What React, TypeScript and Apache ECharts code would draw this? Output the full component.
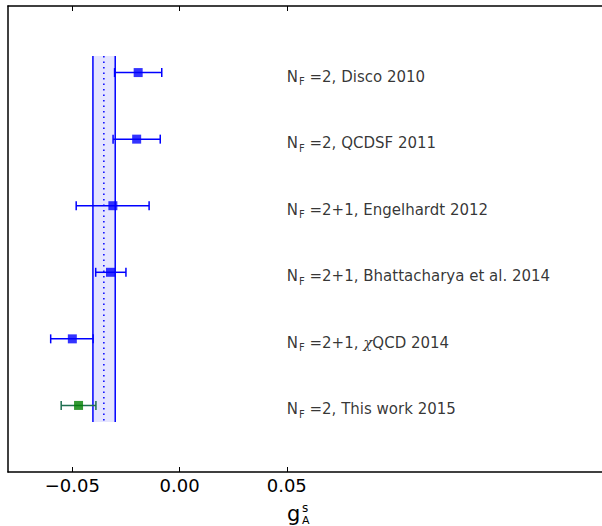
import React, { useEffect, useRef } from "react";
import * as echarts from "echarts";

// ---- data ----
const yPositions = [6, 5, 4, 3, 2, 1];
const flavours = ["2", "2", "2+1", "2+1", "2+1", "2"];
const studies = ["Disco 2010", "QCDSF 2011", "Engelhardt 2012", "Bhattacharya et al. 2014", "χQCD 2014", "This work 2015"];
const centralValues = [-0.0193, -0.02, -0.0311, -0.0322, -0.05, -0.0471];
const lowerValues = [-0.0303, -0.031, -0.0482, -0.0391, -0.0601, -0.0552];
const upperValues = [-0.0083, -0.009, -0.0142, -0.025, -0.0403, -0.039];
const thisWorkIndex = 5;
const bandLow = -0.0404;
const bandHigh = -0.03;
const bandMid = -0.0353;
const bandYRange = [0.75, 6.25];
const labelX = 0.05;
const xTicks = [-0.05, 0, 0.05];
const xRange = [-0.08, 0.197];
const yRange = [0, 7];

const BLUE = "#0000ff";
const GREEN = "#008000";
const GREEN_BAR = "#1e6e50";
const FONT = "DejaVu Sans";

function labelText(i: number) {
  const rest = ` =${flavours[i]}, ` + studies[i];
  if (rest.includes("χ")) {
    const [a, b] = rest.split("χ");
    return `{n|N}{sub|F}{t|${a}}{chi|χ}{t|${b}}`;
  }
  return `{n|N}{sub|F}{t|${rest}}`;
}

export default function App() {
  const ref = useRef<HTMLDivElement>(null);
  useEffect(() => {
    if (!ref.current) return;
    const chart = echarts.init(ref.current, undefined, { renderer: "svg" });
    const pointData = yPositions.map((y, i) => [centralValues[i], y]);
    const errData = yPositions.map((y, i) => [lowerValues[i], upperValues[i], y]);
    const labelData = yPositions.map((y) => [labelX, y]);

    const option: any = {
      animation: false,
      backgroundColor: "#ffffff",
      grid: { left: 8, top: 6, right: 0, height: 466, containLabel: false },
      xAxis: [
        {
          type: "value",
          position: "bottom",
          min: xRange[0],
          max: xRange[1],
          axisLine: { show: true, onZero: false, lineStyle: { color: "#000", width: 1.5 } },
          axisTick: { show: true, inside: true, length: 5, customValues: xTicks, lineStyle: { color: "#000", width: 1 } },
          axisLabel: {
            show: true,
            customValues: xTicks,
            margin: 4,
            color: "#000",
            fontFamily: FONT,
            fontSize: 18,
            formatter: (v: number) => (v < 0 ? "\u2212" + Math.abs(v).toFixed(2) : v.toFixed(2)),
          },
          splitLine: { show: false },
        },
        {
          type: "value",
          position: "top",
          min: xRange[0],
          max: xRange[1],
          axisLine: { show: true, onZero: false, lineStyle: { color: "#000", width: 1.5 } },
          axisTick: { show: true, inside: true, length: 5, customValues: xTicks, lineStyle: { color: "#000", width: 1 } },
          axisLabel: { show: false },
          splitLine: { show: false },
        },
      ],
      yAxis: {
        type: "value",
        min: yRange[0],
        max: yRange[1],
        axisLine: { show: true, onZero: false, lineStyle: { color: "#000", width: 1.5 } },
        axisTick: { show: false },
        axisLabel: { show: false },
        splitLine: { show: false },
      },
      series: [
        {
          type: "custom",
          z: 1,
          clip: false,
          data: [[bandLow, bandHigh, bandMid, bandYRange[0], bandYRange[1]]],
          renderItem: (params: any, api: any) => {
            const lo = api.value(0), hi = api.value(1), mid = api.value(2);
            const y0 = api.value(3), y1 = api.value(4);
            const pTL = api.coord([lo, y1]);
            const pBR = api.coord([hi, y0]);
            const pMidT = api.coord([mid, y1]);
            const pMidB = api.coord([mid, y0]);
            return {
              type: "group",
              children: [
                { type: "rect", shape: { x: pTL[0], y: pTL[1], width: pBR[0] - pTL[0], height: pBR[1] - pTL[1] }, style: { fill: "rgba(0,0,255,0.1)" } },
                { type: "line", shape: { x1: pTL[0], y1: pTL[1], x2: pTL[0], y2: pBR[1] }, style: { stroke: BLUE, lineWidth: 1.5 } },
                { type: "line", shape: { x1: pBR[0], y1: pTL[1], x2: pBR[0], y2: pBR[1] }, style: { stroke: BLUE, lineWidth: 1.5 } },
                { type: "line", shape: { x1: pMidT[0], y1: pMidT[1], x2: pMidB[0], y2: pMidB[1] }, style: { stroke: BLUE, lineWidth: 1.5, lineDash: [1.5, 4] } },
              ],
            };
          },
        },
        {
          type: "custom",
          z: 2,
          data: errData,
          renderItem: (params: any, api: any) => {
            const lo = api.value(0), hi = api.value(1), y = api.value(2);
            const p1 = api.coord([lo, y]);
            const p2 = api.coord([hi, y]);
            const color = params.dataIndex === thisWorkIndex ? GREEN_BAR : BLUE;
            const cap = 4.5;
            const st = { stroke: color, lineWidth: 1.5 };
            return {
              type: "group",
              children: [
                { type: "line", shape: { x1: p1[0], y1: p1[1], x2: p2[0], y2: p2[1] }, style: st },
                { type: "line", shape: { x1: p1[0], y1: p1[1] - cap, x2: p1[0], y2: p1[1] + cap }, style: st },
                { type: "line", shape: { x1: p2[0], y1: p2[1] - cap, x2: p2[0], y2: p2[1] + cap }, style: st },
              ],
            };
          },
        },
        {
          type: "scatter",
          z: 3,
          symbol: "rect",
          symbolSize: 9,
          data: pointData,
          itemStyle: {
            color: (p: any) => (p.dataIndex === thisWorkIndex ? GREEN : BLUE),
          },
        },
        {
          type: "scatter",
          z: 4,
          symbolSize: 0,
          data: labelData,
          label: {
            show: true,
            position: "right",
            distance: 0,
            offset: [0, 4],
            color: "#000",
            formatter: (p: any) => labelText(p.dataIndex),
            rich: {
              n: { fontFamily: FONT, fontSize: 15, color: "#000", lineHeight: 20 },
              sub: { fontFamily: FONT, fontSize: 10, color: "#000", verticalAlign: "bottom", lineHeight: 20, padding: [0, 0, 0, 1] },
              t: { fontFamily: FONT, fontSize: 15, color: "#000", lineHeight: 20 },
              chi: { fontFamily: "DejaVu Serif", fontStyle: "italic", fontSize: 15, color: "#000", lineHeight: 20 },
            },
          },
        },
      ],
      graphic: [
        { type: "text", left: 287, top: 503, style: { text: "g", fontFamily: FONT, fontSize: 21, fill: "#000" } },
        { type: "text", left: 302, top: 502, style: { text: "s", fontFamily: FONT, fontSize: 12, lineHeight: 11, fill: "#000" } },
        { type: "text", left: 302, top: 515, style: { text: "A", fontFamily: FONT, fontSize: 11, lineHeight: 11, fill: "#000" } },
      ],
    };
    chart.setOption(option);
    return () => chart.dispose();
  }, []);
  return <div ref={ref} style={{ position: "absolute", left: 0, top: 0, width: 602, height: 526 }} />;
}
